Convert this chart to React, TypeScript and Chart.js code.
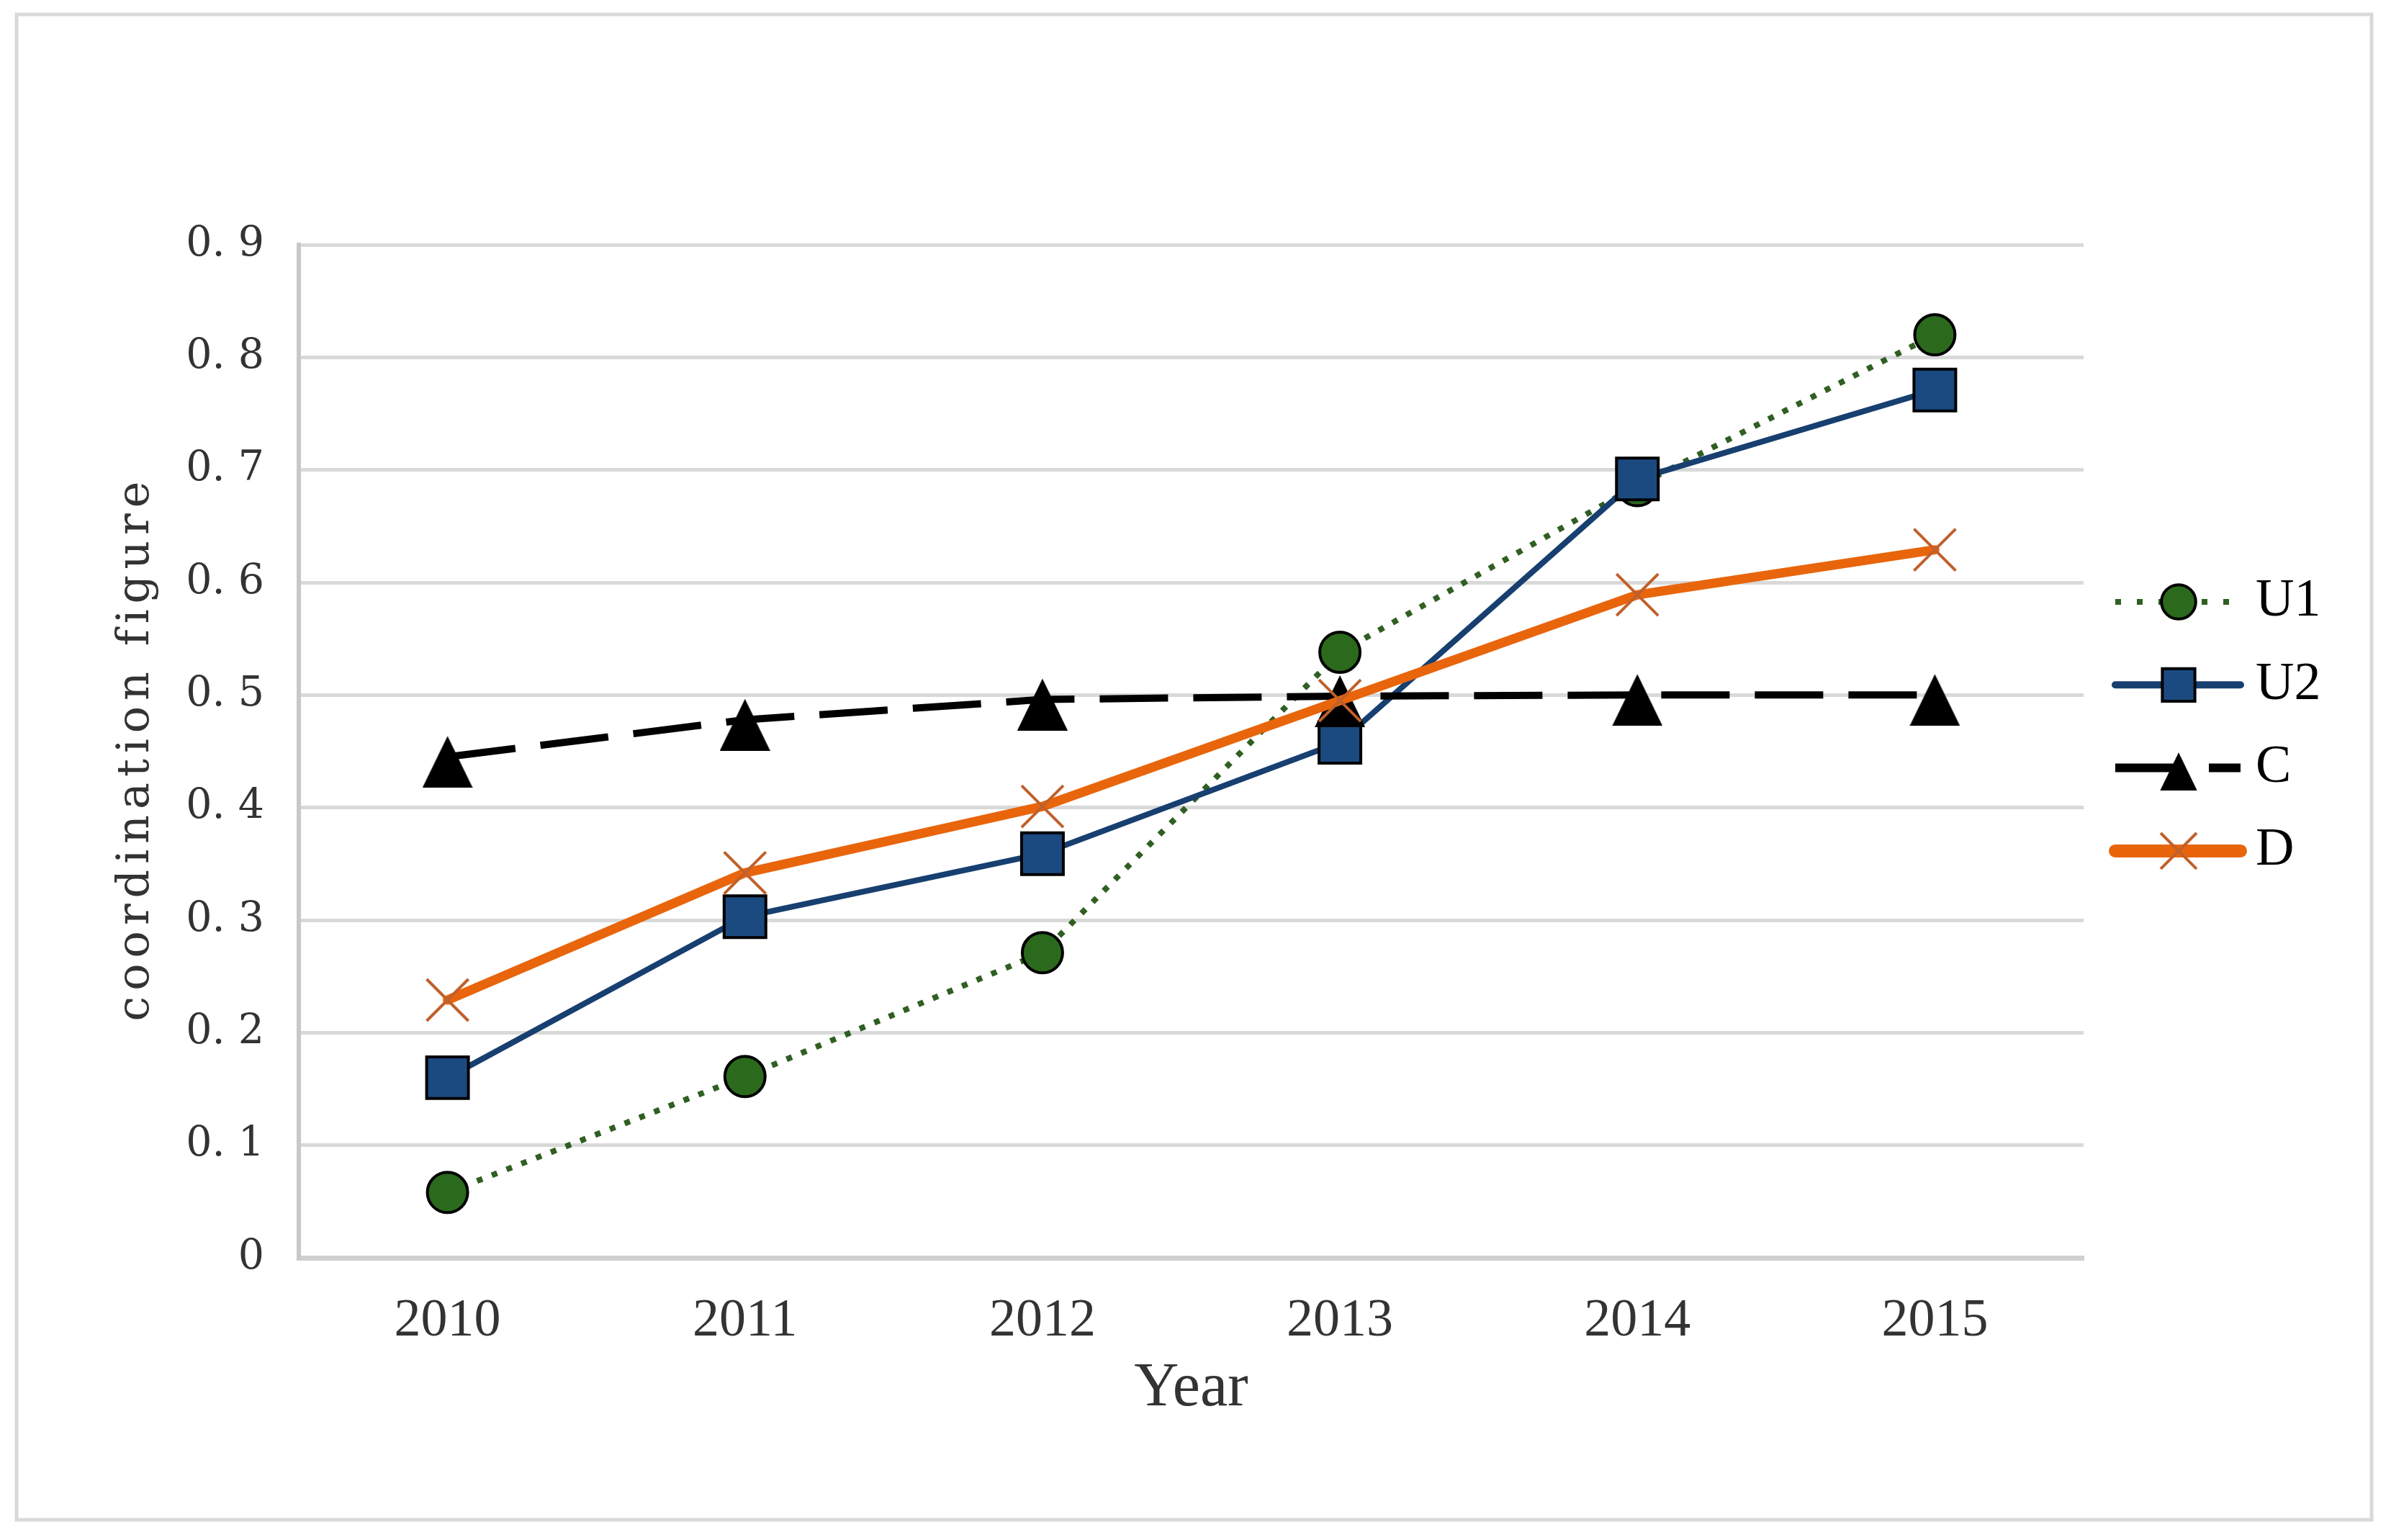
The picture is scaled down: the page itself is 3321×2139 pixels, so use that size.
import React, { useEffect, useRef } from 'react';
import { Chart, registerables } from 'chart.js';

Chart.register(...registerables);

// ---- data ----
const years = ['2010', '2011', '2012', '2013', '2014', '2015'];
const u1Values = [0.058, 0.161, 0.271, 0.538, 0.686, 0.82];
const u2Values = [0.16, 0.303, 0.359, 0.458, 0.692, 0.771];
const cValues = [0.445, 0.478, 0.496, 0.499, 0.5, 0.5];
const dValues = [0.229, 0.342, 0.401, 0.495, 0.589, 0.629];
const seriesLabels = ['U1', 'U2', 'C', 'D'];
const yMin = 0;
const yMax = 0.9;
const yStep = 0.1;
const xTitle = 'Year';
const yTitle = 'coordination figure';

function makeTriangle(): HTMLCanvasElement {
  const c = document.createElement('canvas');
  const w = 70;
  const h = 86;
  c.width = w;
  c.height = h;
  const ctx = c.getContext('2d')!;
  ctx.fillStyle = '#000000';
  ctx.beginPath();
  ctx.moveTo(w / 2, 14);
  ctx.lineTo(w, h);
  ctx.lineTo(0, h);
  ctx.closePath();
  ctx.fill();
  return c;
}

function drawMarker(ctx: CanvasRenderingContext2D, ds: any, x: number, y: number, s: number) {
  const style = ds.pointStyle;
  if (style && typeof style === 'object') {
    const w = style.width * s;
    const h = style.height * s;
    ctx.drawImage(style, x - w / 2, y - h / 2, w, h);
    return;
  }
  ctx.fillStyle = ds.pointBackgroundColor;
  ctx.strokeStyle = ds.pointBorderColor;
  ctx.lineWidth = ds.pointBorderWidth;
  const r = ds.pointRadius * s;
  ctx.beginPath();
  if (style === 'circle') {
    ctx.arc(x, y, r, 0, Math.PI * 2);
    ctx.fill();
    ctx.stroke();
  } else if (style === 'rect') {
    const h = r * Math.SQRT1_2;
    ctx.rect(x - h, y - h, 2 * h, 2 * h);
    ctx.fill();
    ctx.stroke();
  } else if (style === 'crossRot') {
    const h = r * Math.SQRT1_2;
    ctx.moveTo(x - h, y - h);
    ctx.lineTo(x + h, y + h);
    ctx.moveTo(x + h, y - h);
    ctx.lineTo(x - h, y + h);
    ctx.stroke();
  }
}

const framePlugin = {
  id: 'frameAndLegend',
  beforeDraw(chart: any) {
    const ctx = chart.ctx as CanvasRenderingContext2D;
    ctx.save();
    ctx.fillStyle = '#ffffff';
    ctx.fillRect(0, 0, chart.width, chart.height);
    ctx.strokeStyle = '#d9d9d9';
    ctx.lineWidth = 5;
    ctx.strokeRect(23, 20, chart.width - 23 - 27, chart.height - 20 - 28);
    ctx.restore();
  },
  afterDraw(chart: any) {
    const ctx = chart.ctx as CanvasRenderingContext2D;
    const area = chart.chartArea;

    // y-axis title, spaced like the reference's monospaced serif
    ctx.save();
    const spacing = 8;
    (ctx as any).letterSpacing = spacing + 'px';
    ctx.font = '62px "DejaVu Serif"';
    ctx.fillStyle = '#333333';
    ctx.textAlign = 'center';
    ctx.textBaseline = 'alphabetic';
    ctx.translate(206, (area.top + area.bottom) / 2);
    ctx.rotate(-Math.PI / 2);
    ctx.fillText(yTitle, spacing / 2, 0);
    ctx.restore();

    // legend
    const x0 = area.right + 44;
    const lineLen = 174;
    const mx = x0 + 88;
    const tx = area.right + 239;
    const yStart = area.top + 496;
    const step = 115.3;
    chart.data.datasets.forEach((ds: any, i: number) => {
      const y = yStart + i * step;
      ctx.save();
      ctx.strokeStyle = ds.borderColor;
      ctx.lineWidth = ds.legendLineWidth || ds.borderWidth;
      ctx.setLineDash(ds.legendDash || []);
      ctx.lineCap = ds.legendCap || 'butt';
      ctx.beginPath();
      ctx.moveTo(x0, y);
      ctx.lineTo(x0 + lineLen, y);
      ctx.stroke();
      ctx.setLineDash([]);
      ctx.lineCap = 'butt';
      drawMarker(ctx, ds, mx, y, ds.legendScale || 0.82);
      ctx.fillStyle = '#000000';
      ctx.font = '74px "Liberation Serif"';
      ctx.textBaseline = 'middle';
      ctx.textAlign = 'left';
      ctx.fillText(ds.label, tx, y);
      ctx.restore();
    });
  },
};

export default function App() {
  const ref = useRef<HTMLCanvasElement | null>(null);

  useEffect(() => {
    document.body.style.margin = '0';
    document.body.style.overflow = 'hidden';
    const canvas = ref.current;
    if (!canvas) return;
    const tri = makeTriangle();

    const chart = new Chart(canvas, {
      type: 'line',
      data: {
        labels: years,
        datasets: [
          {
            label: seriesLabels[0],
            data: u1Values,
            borderColor: '#2f5f22',
            borderWidth: 8,
            borderDash: [8, 14],
            borderCapStyle: 'butt',
            tension: 0,
            pointStyle: 'circle',
            pointRadius: 28,
            pointBackgroundColor: '#2b6a1c',
            pointBorderColor: '#000000',
            pointBorderWidth: 4,
            order: 3,
            legendDash: [8, 22],
            legendScale: 0.85,
          } as any,
          {
            label: seriesLabels[1],
            data: u2Values,
            borderColor: '#173f70',
            borderWidth: 8,
            tension: 0,
            pointStyle: 'rect',
            pointRadius: 41,
            pointBackgroundColor: '#1b4a80',
            pointBorderColor: '#000000',
            pointBorderWidth: 4,
            order: 2,
            legendLineWidth: 10,
            legendCap: 'round',
            legendScale: 0.78,
          } as any,
          {
            label: seriesLabels[2],
            data: cValues,
            borderColor: '#000000',
            borderWidth: 10,
            borderDash: [95, 35],
            tension: 0,
            pointStyle: tri,
            pointRadius: 36,
            pointBackgroundColor: '#000000',
            pointBorderColor: '#000000',
            order: 1,
            legendDash: [95, 35],
            legendLineWidth: 12,
            legendScale: 0.74,
          } as any,
          {
            label: seriesLabels[3],
            data: dValues,
            borderColor: '#e8650c',
            borderWidth: 13,
            borderCapStyle: 'round',
            borderJoinStyle: 'round',
            tension: 0,
            pointStyle: 'crossRot',
            pointRadius: 41,
            pointBackgroundColor: '#c0602b',
            pointBorderColor: '#c0602b',
            pointBorderWidth: 4,
            order: 0,
            legendLineWidth: 18,
            legendCap: 'round',
            legendScale: 0.86,
          } as any,
        ],
      },
      options: {
        responsive: false,
        devicePixelRatio: 1,
        animation: false,
        events: [],
        layout: { padding: { left: 0, top: 340, right: 427, bottom: 92 } },
        plugins: {
          legend: { display: false },
          tooltip: { enabled: false },
        },
        scales: {
          x: {
            type: 'category',
            offset: true,
            grid: { display: false, drawTicks: false },
            border: { display: true, color: '#d0d0d0', width: 7 },
            ticks: {
              font: { family: '"Liberation Serif"', size: 74 },
              color: '#333333',
              padding: 44,
              maxRotation: 0,
              autoSkip: false,
            },
            title: {
              display: true,
              text: xTitle,
              font: { family: '"Liberation Serif"', size: 86 },
              color: '#333333',
              padding: { top: 0, bottom: 66 },
            },
            afterFit: (s: any) => {
              s.height = 300;
            },
          },
          y: {
            min: yMin,
            max: yMax,
            ticks: {
              stepSize: yStep,
              font: { family: '"DejaVu Serif"', size: 57 },
              color: '#333333',
              padding: 48,
              callback: (v: any) => {
                const n = Math.round(Number(v) * 10) / 10;
                return n === 0 ? '0' : n.toFixed(1).replace('.', '. ');
              },
            },
            grid: { color: '#d9d9d9', lineWidth: 5, drawTicks: false },
            border: { display: true, color: '#c8c8c8', width: 6 },
            title: { display: false },
            afterFit: (s: any) => {
              s.width = 415;
            },
          },
        },
      },
      plugins: [framePlugin],
    });

    return () => {
      chart.destroy();
    };
  }, []);

  return (
    <div style={{ width: 3321, height: 2139, position: 'relative' }}>
      <canvas ref={ref} width={3321} height={2139} style={{ width: 3321, height: 2139, display: 'block' }} />
    </div>
  );
}
